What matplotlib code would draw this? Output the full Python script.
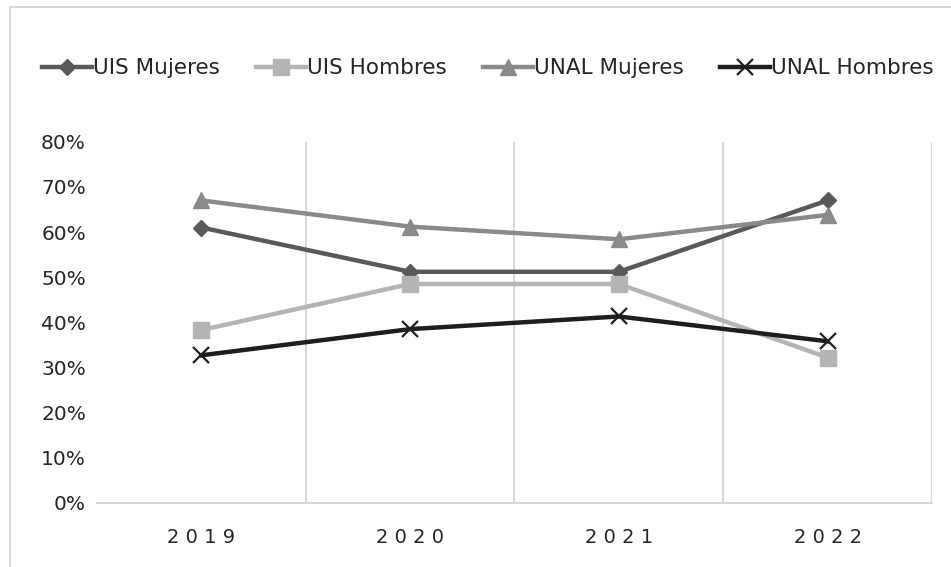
import matplotlib
matplotlib.use("Agg")
import matplotlib.pyplot as plt
from matplotlib.patches import Rectangle

years = ["2019", "2020", "2021", "2022"]
uis_mujeres = [61.0, 51.2, 51.2, 67.0]
uis_hombres = [38.3, 48.5, 48.5, 32.2]
unal_mujeres = [67.0, 61.2, 58.4, 63.8]
unal_hombres = [32.7, 38.5, 41.3, 35.8]
series_names = ["UIS Mujeres", "UIS Hombres", "UNAL Mujeres", "UNAL Hombres"]

plt.rcParams["font.family"] = ["DejaVu Sans"]

fig = plt.figure(figsize=(9.51, 5.67), dpi=100)
ax = fig.add_axes([0.102, 0.113, 0.878, 0.637])

x = list(range(len(years)))
styles = [
    dict(color="#595959", marker="D", markersize=8),
    dict(color="#b4b4b4", marker="s", markersize=11),
    dict(color="#8a8a8a", marker="^", markersize=11),
    dict(color="#1e1e1e", marker="x", markersize=11, markeredgewidth=1.6),
]
for vals, name, st in zip([uis_mujeres, uis_hombres, unal_mujeres, unal_hombres], series_names, styles):
    ax.plot(x, vals, lw=3.2, label=name, solid_joinstyle="round", **st)

ax.set_xlim(-0.5, 3.5)
ax.set_ylim(0, 80)
ax.set_yticks(range(0, 81, 10))
ax.set_yticklabels([f"{v}%" for v in range(0, 81, 10)], fontsize=14.5, color="#262626")
ax.set_xticks(x)
# spaced digits for the category labels
ax.set_xticklabels([" ".join(y) for y in years], fontsize=14, color="#262626")
ax.tick_params(axis="y", length=0, pad=8)
ax.tick_params(axis="x", length=0, pad=18)

# category separators
for b in [0.5, 1.5, 2.5, 3.5]:
    ax.axvline(b, color="#d9d9d9", lw=1.5, zorder=0)

for s in ["left", "right", "top"]:
    ax.spines[s].set_visible(False)
ax.spines["bottom"].set_color("#d9d9d9")
ax.spines["bottom"].set_linewidth(1.5)

leg = fig.legend(loc="center", bbox_to_anchor=(0.513, 0.88), ncol=4, frameon=False,
                 fontsize=15.5, handlelength=2.3, handletextpad=0.05, columnspacing=1.7)
for t in leg.get_texts():
    t.set_color("#262626")

# chart frame
fig.patches.append(Rectangle((10 / 951, -0.05), 1.2, 1 - 7 / 567 + 0.05, transform=fig.transFigure,
                             fill=False, edgecolor="#d9d9d9", lw=1.5))

fig.savefig("out.png", dpi=100)
